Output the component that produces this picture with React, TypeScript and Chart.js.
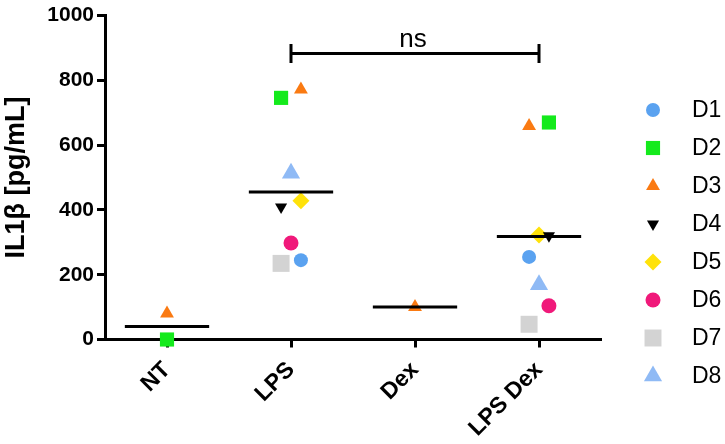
import React, { useEffect, useRef } from 'react';
import { Chart, registerables } from 'chart.js';
import { drawPoint } from 'chart.js/helpers';

Chart.register(...registerables);

const categories = ['NT', 'LPS', 'Dex', 'LPS Dex'];
const donors = ['D1', 'D2', 'D3', 'D4', 'D5', 'D6', 'D7', 'D8'];

// IL1β values [pg/mL] per donor, per category (null = not measured)
const d1 = [null, 245, null, 255];
const d2 = [0, 746, null, 670];
const d3 = [80, 772, 100, 659];
const d4 = [null, 409, null, 320];
const d5 = [null, 428, null, 323];
const d6 = [null, 298, null, 104];
const d7 = [null, 235, null, 47];
const d8 = [null, 513, null, 169];
const donorValues = [d1, d2, d3, d4, d5, d6, d7, d8];

// horizontal scatter offsets (category units)
const j1 = [0, 0.08, 0, -0.08];
const j2 = [0, -0.08, 0, 0.08];
const j3 = [0, 0.08, 0, -0.08];
const j4 = [0, -0.08, 0, 0.08];
const j5 = [0, 0.08, 0, 0];
const j6 = [0, 0, 0, 0.08];
const j7 = [0, -0.08, 0, -0.08];
const j8 = [0, 0, 0, 0];
const donorJitter = [j1, j2, j3, j4, j5, j6, j7, j8];

const colors = ['#5AA2F0', '#14EA1C', '#FA7A12', '#000000', '#FFE20A', '#F0197A', '#D3D3D3', '#8FBAF5'];
const styles = ['circle', 'rect', 'triangle', 'triangle', 'rectRot', 'circle', 'rect', 'triangle'];
const rotations = [0, 0, 0, 180, 0, 0, 0, 0];
const radii = [7, 10, 8, 7, 8.5, 7.5, 12, 10.5];

const yTicks = [0, 200, 400, 600, 800, 1000];

// significance bracket between LPS and LPS Dex
const bracketFrom = 1;
const bracketTo = 3;
const bracketY = 883;
const bracketCap = 29;
const bracketLabel = 'ns';

const FONT = '"Liberation Sans", Arial, Helvetica, sans-serif';

function meanOf(j: number): number | null {
  const vals = donorValues.map((d) => d[j]).filter((v) => v !== null) as number[];
  if (!vals.length) return null;
  return vals.reduce((a, b) => a + b, 0) / vals.length;
}

const annotPlugin = {
  id: 'annot',
  afterDraw(chart: any) {
    const ctx = chart.ctx;
    const xs = chart.scales.x;
    const ys = chart.scales.y;
    ctx.save();
    ctx.fillStyle = '#000';
    ctx.font = `26px ${FONT}`;
    ctx.textAlign = 'center';
    ctx.textBaseline = 'alphabetic';
    ctx.fillText(
      bracketLabel,
      xs.getPixelForValue((bracketFrom + bracketTo) / 2) - 2,
      ys.getPixelForValue(bracketY) - 6
    );
    const lx = chart.chartArea.right + 52;
    donors.forEach((name, i) => {
      const y = 110 + i * 38;
      ctx.fillStyle = colors[i];
      ctx.strokeStyle = colors[i];
      drawPoint(ctx, { pointStyle: styles[i], radius: radii[i], rotation: rotations[i], borderWidth: 0 } as any, lx, y);
      ctx.fillStyle = '#000';
      ctx.font = `23px ${FONT}`;
      ctx.textAlign = 'left';
      ctx.textBaseline = 'middle';
      ctx.fillText(name, lx + 39, y + 1);
    });
    ctx.restore();
  },
};

export default function App() {
  const ref = useRef<HTMLCanvasElement>(null);
  useEffect(() => {
    if (!ref.current) return;
    const datasets: any[] = [];
    donors.forEach((name, i) => {
      const data = categories
        .map((_, j) => (donorValues[i][j] === null ? null : { x: j + donorJitter[i][j], y: donorValues[i][j] }))
        .filter((p) => p !== null);
      datasets.push({
        type: 'scatter',
        label: name,
        data,
        pointStyle: styles[i],
        pointRadius: radii[i],
        pointRotation: rotations[i],
        backgroundColor: colors[i],
        borderColor: colors[i],
        borderWidth: 0,
        clip: false,
        order: 2,
      });
    });
    categories.forEach((c, j) => {
      const m = meanOf(j);
      if (m === null) return;
      datasets.push({
        type: 'line',
        label: 'mean ' + c,
        data: [
          { x: j - 0.34, y: m },
          { x: j + 0.34, y: m },
        ],
        borderColor: '#000',
        borderWidth: 3,
        pointRadius: 0,
        order: 1,
      });
    });
    datasets.push({
      type: 'line',
      label: 'bracket',
      data: [
        { x: bracketFrom, y: bracketY - bracketCap },
        { x: bracketFrom, y: bracketY + bracketCap },
        { x: bracketFrom, y: null },
        { x: bracketFrom, y: bracketY },
        { x: bracketTo, y: bracketY },
        { x: bracketTo, y: null },
        { x: bracketTo, y: bracketY - bracketCap },
        { x: bracketTo, y: bracketY + bracketCap },
      ],
      borderColor: '#000',
      borderWidth: 3,
      pointRadius: 0,
      spanGaps: false,
      order: 1,
    });

    const chart = new Chart(ref.current, {
      type: 'scatter',
      data: { datasets },
      plugins: [annotPlugin],
      options: {
        animation: false,
        responsive: false,
        layout: { padding: { top: 8, right: 124, bottom: 0, left: 0 } },
        plugins: { legend: { display: false }, tooltip: { enabled: false } },
        scales: {
          x: {
            type: 'linear',
            min: -0.5,
            max: 3.5,
            afterBuildTicks: (scale: any) => {
              scale.ticks = categories.map((_, j) => ({ value: j }));
            },
            afterFit: (scale: any) => {
              scale.height = 104.5;
            },
            ticks: {
              autoSkip: false,
              maxRotation: 45,
              minRotation: 45,
              color: '#000',
              padding: 9,
              font: { family: FONT, size: 23, weight: 'bold' },
              callback: (v: any) => categories[v] ?? '',
            },
            grid: {
              display: true,
              drawOnChartArea: false,
              drawTicks: true,
              tickLength: 8,
              tickWidth: 3,
              tickColor: '#000',
            },
            border: { display: true, color: '#000', width: 3 },
          },
          y: {
            type: 'linear',
            min: 0,
            max: 1000,
            afterBuildTicks: (scale: any) => {
              scale.ticks = yTicks.map((v) => ({ value: v }));
            },
            afterFit: (scale: any) => {
              scale.width = 105;
            },
            ticks: {
              color: '#000',
              padding: 3,
              font: { family: FONT, size: 21, weight: 'bold' },
              callback: (v: any) => String(v),
            },
            grid: {
              display: true,
              drawOnChartArea: false,
              drawTicks: true,
              tickLength: 8,
              tickWidth: 3,
              tickColor: '#000',
            },
            border: { display: true, color: '#000', width: 3 },
            title: {
              display: true,
              text: 'IL1β [pg/mL]',
              color: '#000',
              padding: { top: 0, bottom: 0 },
              font: { family: FONT, size: 27, weight: 'bold' },
            },
          },
        },
      } as any,
    });
    return () => chart.destroy();
  }, []);
  return (
    <div style={{ position: 'absolute', left: 0, top: 0, width: 725, height: 444, background: '#fff' }}>
      <canvas ref={ref} width={725} height={444} style={{ display: 'block' }} />
    </div>
  );
}
